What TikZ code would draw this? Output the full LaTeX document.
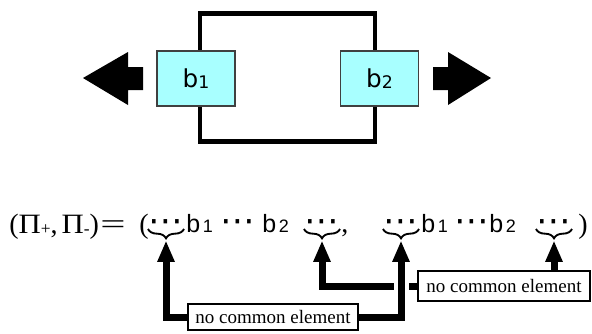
\documentclass[tikz,border=0pt]{standalone}
\usepackage{fontspec}
\setmainfont{Liberation Serif}
\newfontfamily\dvsans{DejaVu Sans}
\newfontfamily\lsans{Liberation Sans}
\usetikzlibrary{arrows.meta,decorations.pathreplacing,calc}
\definecolor{boxcyan}{HTML}{A8FFFF}

\begin{document}
\begin{tikzpicture}[x=0.75pt,y=-0.75pt,
  frame/.style={line width=3.4pt},
  blockbox/.style={draw=black!75, line width=0.8pt, fill=boxcyan,
    minimum width=58.5pt, minimum height=41.25pt, inner sep=0pt,
    font=\dvsans\fontsize{18.5}{19}\selectfont},
  fx/.style={inner sep=0pt, anchor=base west},
  bigserif/.style={font=\fontsize{21}{22}\selectfont},
  bsans/.style={font=\lsans\fontsize{18.75}{20}\selectfont},
  dotsnode/.style={inner sep=0pt, anchor=base, font=\dvsans\fontsize{26}{26}\selectfont},
  bracedeco/.style={decorate, decoration={brace, amplitude=7pt}, line width=1.4pt},
  note/.style={draw, line width=0.9pt, fill=white, inner sep=0pt,
    font=\fontsize{14.25}{15}\selectfont},
  arr/.style={line width=5.25pt, line join=miter,
    -{Triangle[length=16pt,width=12pt]}}]
\useasboundingbox (0,0) rectangle (592,333);

% ---- top: loop with two boundary blocks ----
\draw[frame] (200,13.5) rectangle (375,141.5);
\node[blockbox] (blk1) at (196,78.5) {b\raisebox{-1pt}{\fontsize{13}{13}\selectfont 1}};
\node[blockbox] (blk2) at (379.5,78.5) {b\raisebox{-1pt}{\fontsize{13}{13}\selectfont 2}};

% outward arrows
\fill (83,78) -- (128,52) -- (128,67) -- (143,67) -- (143,90) -- (128,90) -- (128,105) -- cycle;
\fill (491,78) -- (448,52) -- (448,67) -- (433,67) -- (433,90) -- (448,90) -- (448,105) -- cycle;

% ---- bottom: pair of sequences ----
\node[fx, bigserif] (lhs) at (9,233)
  {(\scalebox{1.1}[1]{Π}\raisebox{-1pt}{\fontsize{13}{13}\selectfont +},\hspace{3pt}\scalebox{1.1}[1]{Π}\raisebox{-1pt}{\fontsize{13}{13}\selectfont -})\hspace{1pt}\scalebox{1.6}[1]{=}};
\node[fx, bigserif] (lp) at (139,233) {(};
\node[dotsnode] (d1) at (166,232) {⋯};
\node[fx, bsans] (b1a) at (186,232) {b\hspace{2pt}{\fontsize{13.5}{14}\selectfont 1}};
\node[dotsnode] (d2) at (238,232) {⋯};
\node[fx, bsans] (b2a) at (262,232) {b\hspace{2pt}{\fontsize{13.5}{14}\selectfont 2}};
\node[dotsnode] (d3) at (322,232) {⋯};
\node[fx, bigserif] (cm) at (341,232) {,};
\node[dotsnode] (d4) at (401,232) {⋯};
\node[fx, bsans] (b1b) at (421,232) {b\hspace{2pt}{\fontsize{13.5}{14}\selectfont 1}};
\node[dotsnode] (d5) at (472,232) {⋯};
\node[fx, bsans] (b2b) at (489,232) {b\hspace{2pt}{\fontsize{13.5}{14}\selectfont 2}};
\node[dotsnode] (d6) at (554,232) {⋯};
\node[fx, bigserif] (rp) at (578,233) {)};

% braces under the gaps
\foreach \d in {d1,d3,d4,d6}{
  \draw[bracedeco] ($(\d.base)+(18,-3)$) -- ($(\d.base)+(-18,-3)$);
  \coordinate (t\d) at ($(\d.base)+(0,8.5)$);
}

% annotation boxes
\node[note, minimum width=127.5pt, minimum height=19.5pt] (nb1) at (273,317) {no common element};
\node[note, minimum width=129pt, minimum height=22.5pt] (nb2) at (504,286) {no common element};

% connectors
\draw[arr] (nb1.west) -| (td1);
\draw[arr] (nb2.west) -| (td3);
\path[draw=white, line width=11.25pt] ($(td4 |- nb2.west)+(0,-9)$) -- ($(td4 |- nb2.west)+(0,9)$);
\draw[arr] (nb1.east) -| (td4);
\draw[arr] (nb2.north -| td6) -- (td6);
\end{tikzpicture}
\end{document}
